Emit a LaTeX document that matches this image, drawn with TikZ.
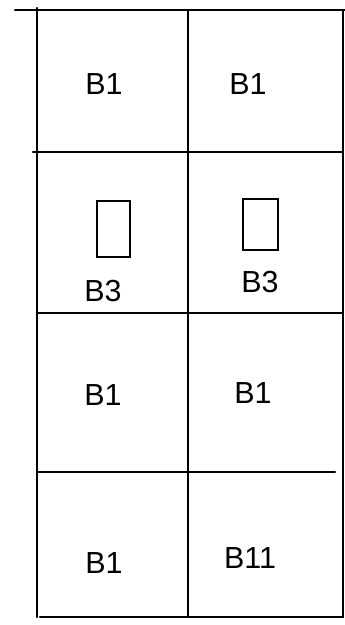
\documentclass[tikz,border=0pt]{standalone}
\usepackage{fontspec}
\setmainfont{Liberation Sans}
\usepackage{tikz}
\usetikzlibrary{positioning}

\begin{document}
\begin{tikzpicture}[
  x=0.03cm, y=-0.03cm,
  grid/.style={line width=2pt, black, line cap=round},
  slot/.style={line width=1.5pt, black},
  tag/.style={font=\fontsize{26}{30}\selectfont, text=black, inner sep=0pt},
]
  \useasboundingbox (0,0) rectangle (345,625);

  % Grid lines
  \draw[grid] (15,10) -- (345,10);
  \draw[grid] (37,8) -- (37,617);
  \draw[grid] (188,10) -- (188,617);
  \draw[grid] (343,10) -- (343,617);
  \draw[grid] (33,152) -- (343,152);
  \draw[grid] (37,313) -- (343,313);
  \draw[grid] (37,472) -- (335,472);
  \draw[grid] (40,617) -- (343,617);

  % Row 1
  \node[tag] (r1a) at (104,84) {B1};
  \node[tag] (r1b) at (248,84) {B1};

  % Row 2
  \draw[slot] (97,201) rectangle (130,257);
  \draw[slot] (243,199) rectangle (278,250);
  \node[tag] (r2a) at (103,291) {B3};
  \node[tag] (r2b) at (260,282) {B3};

  % Row 3
  \node[tag] (r3a) at (103,395) {B1};
  \node[tag] (r3b) at (253,393) {B1};

  % Row 4
  \node[tag] (r4a) at (104,563) {B1};
  \node[tag] (r4b) at (250,558) {B11};
\end{tikzpicture}
\end{document}
